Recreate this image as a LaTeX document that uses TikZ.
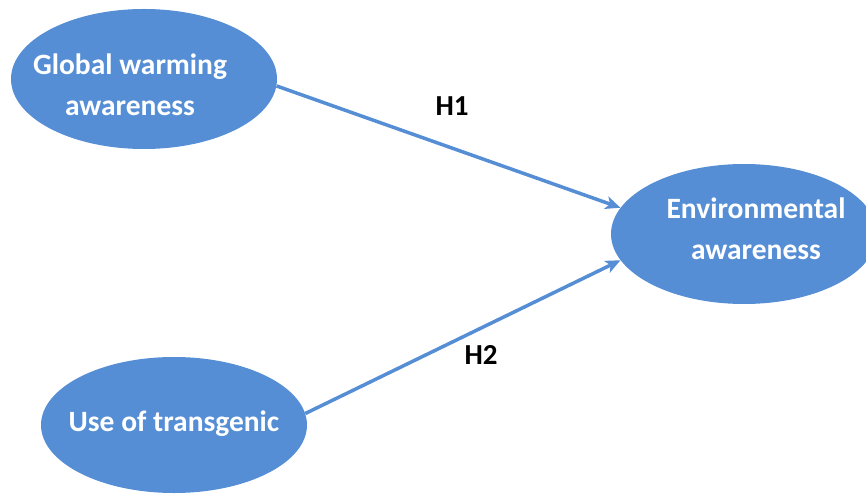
\documentclass[tikz,border=0pt]{standalone}
\usepackage{fontspec}
\setmainfont{Carlito}
\usetikzlibrary{shapes.geometric,arrows.meta}
\definecolor{blob}{RGB}{85,142,213}
\tikzset{
  construct/.style={ellipse, fill=blob, draw=none, inner sep=0pt},
  ctext/.style={text=white, font=\fontsize{29.5}{41}\selectfont\bfseries, align=center},
  hyp/.style={font=\fontsize{29}{34}\selectfont\bfseries, text=black},
  link/.style={draw=blob, line width=3.5pt, -{Stealth[length=15pt,width=13pt,inset=4pt]}}
}
\begin{document}
\begin{tikzpicture}[x=1pt,y=-1pt]
\useasboundingbox (0,0) rectangle (866,494);
\clip (0,0) rectangle (866,494);
\node[construct, minimum width=266pt, minimum height=140pt] (g) at (144,79) {};
\node[construct, minimum width=266pt, minimum height=140pt] (e) at (744,234) {};
\node[construct, minimum width=266pt, minimum height=136pt] (u) at (174,425) {};
\node[ctext] (gt) at (130,84.5) {Global warming\\awareness};
\node[ctext] (et) at (756,229) {Environmental\\awareness};
\node[ctext] (ut) at (174,424) {Use of transgenic};
\draw[link] (g.-3) -- (e.168);
\draw[link] (u.5.5) -- (e.192);
\node[hyp] (h1) at (452,106) {H1};
\node[hyp] (h2) at (481,355) {H2};
\end{tikzpicture}
\end{document}
